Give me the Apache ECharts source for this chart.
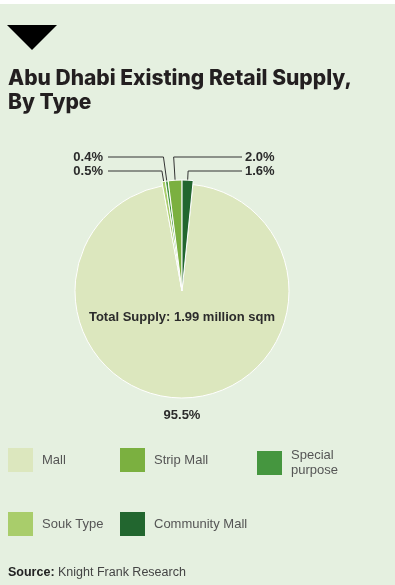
<!DOCTYPE html>
<html>
<head>
<meta charset="utf-8">
<script src="https://cdn.jsdelivr.net/npm/echarts@6/dist/echarts.min.js"></script>
<style>
  html, body { margin: 0; padding: 0; background: #e5f0e0; overflow: hidden; }
  #main { width: 395px; height: 585px; }
</style>
</head>
<body>
<div id="main"></div>
<script>
// 数据
var categories = ['Souk Type', 'Special purpose', 'Strip Mall', 'Community Mall', 'Mall'];
var shares = [0.5, 0.4, 2.0, 1.6, 95.5];
var colors = ['#a9cd6b', '#45963f', '#7bb040', '#22662f', '#dce7be'];
var totalText = 'Total Supply: 1.99 million sqm';

// 小扇区标签放在哪边、哪一行
var labelSide = ['left', 'left', 'right', 'right'];
var labelRow = [1, 0, 0, 1];

var chart = echarts.init(document.getElementById('main'));
var cx = 182, cy = 291;
var rowY = [157, 171];

function pieData(showMall) {
  return categories.map(function (name, i) {
    var isMall = name === 'Mall';
    var visible = showMall ? isMall : !isMall;
    return {
      name: name,
      value: shares[i],
      itemStyle: visible
        ? { color: colors[i], borderColor: '#fff', borderWidth: 1 }
        : { color: 'transparent', borderWidth: 0 },
      label: { show: visible },
      labelLine: { show: visible && !isMall }
    };
  });
}

function legendItems(names) {
  return names.map(function (n) {
    return { name: n, itemStyle: { color: colors[categories.indexOf(n)], borderWidth: 0 } };
  });
}

var legendBase = {
  orient: 'vertical',
  top: 448,
  padding: 0,
  itemWidth: 25,
  itemHeight: 24,
  itemGap: 40,
  icon: 'rect',
  selectedMode: false,
  textStyle: { fontFamily: 'Liberation Sans', fontSize: 13, color: '#555', lineHeight: 15, padding: [0, 0, 0, 4] }
};

var option = {
  backgroundColor: '#e5f0e0',
  animation: false,
  title: {
    text: 'Abu Dhabi Existing Retail Supply,\nBy Type',
    left: 3,
    top: 62,
    textStyle: { fontFamily: 'Inter', fontWeight: 800, fontSize: 21, lineHeight: 24, color: '#231f20' }
  },
  legend: [
    Object.assign({}, legendBase, { left: 8, data: legendItems(['Mall', 'Souk Type']) }),
    Object.assign({}, legendBase, { left: 120, data: legendItems(['Strip Mall', 'Community Mall']) }),
    Object.assign({}, legendBase, {
      left: 257, data: legendItems(['Special purpose']),
      formatter: function (n) { return n.replace(' ', '\n'); }
    })
  ],
  graphic: [
    { type: 'rect', left: 0, top: 0, shape: { width: 395, height: 4 }, style: { fill: '#fff' } },
    { type: 'polygon', shape: { points: [[7, 25], [57, 25], [32, 50]] }, style: { fill: '#000' } },
    {
      type: 'text', x: cx, y: 317, z: 100,
      style: { text: totalText, font: 'bold 13px "Liberation Sans"', fill: '#2b2b2b', align: 'center', verticalAlign: 'middle' }
    },
    {
      type: 'text', left: 8, top: 566,
      style: {
        text: '{b|Source:} Knight Frank Research',
        rich: {
          b: { fontFamily: 'Liberation Sans', fontWeight: 'bold', fontSize: 12.5, fill: '#222' }
        },
        font: '12.5px "Liberation Sans"', fill: '#444'
      }
    }
  ],
  series: [
    {
      // 大扇区 Mall
      type: 'pie',
      center: [cx, cy],
      radius: [0, 107],
      startAngle: 100.4,
      silent: true,
      data: pieData(true),
      label: {
        position: 'outside',
        formatter: function (p) { return p.value.toFixed(1) + '%'; },
        fontFamily: 'Liberation Sans', fontWeight: 'bold', fontSize: 13, color: '#2b2b2b'
      },
      labelLine: { show: false, length: 0, length2: 0 },
      labelLayout: function (p) {
        return { x: cx, y: cy + 124, align: 'center', verticalAlign: 'middle' };
      }
    },
    {
      // 小扇区
      type: 'pie',
      center: [cx, cy],
      radius: [0, 111],
      startAngle: 100.4,
      silent: true,
      avoidLabelOverlap: false,
      data: pieData(false),
      label: {
        position: 'outside',
        formatter: function (p) { return p.value.toFixed(1) + '%'; },
        fontFamily: 'Liberation Sans', fontWeight: 'bold', fontSize: 13, color: '#2b2b2b'
      },
      labelLine: { lineStyle: { color: '#333', width: 1 }, length: 10, length2: 10 },
      labelLayout: function (p) {
        var i = p.dataIndex;
        if (i >= labelSide.length || !p.labelLinePoints) return {};
        var p0 = p.labelLinePoints[0];
        var y = rowY[labelRow[i]];
        var t = (y - cy) / (p0[1] - cy);
        var ex = cx + t * (p0[0] - cx);
        var left = labelSide[i] === 'left';
        var endX = left ? cx - 74 : cx + 60;
        return {
          x: left ? endX - 5 : endX + 3,
          y: y,
          align: left ? 'right' : 'left',
          verticalAlign: 'middle',
          labelLinePoints: [p0, [ex, y], [endX, y]]
        };
      }
    }
  ]
};

chart.setOption(option);
</script>
</body>
</html>
